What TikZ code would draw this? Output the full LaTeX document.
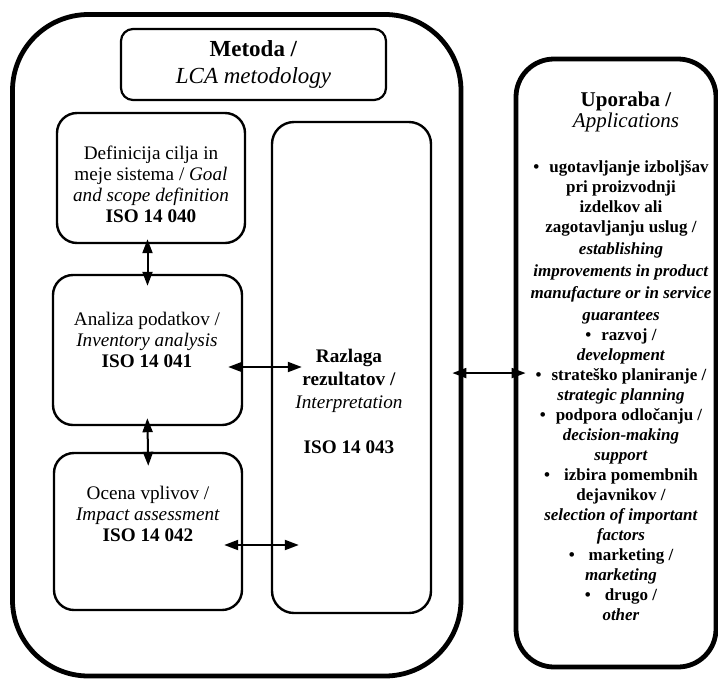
\documentclass[tikz,border=0pt]{standalone}
\usepackage{fontspec}
\setmainfont{Liberation Serif}
\usepackage{tikz}
\usetikzlibrary{positioning,arrows.meta}
\newfontfamily\appfont{Liberation Serif}
\tikzset{
  lcabox/.style  ={draw, line width=2.4pt, rounded corners=38pt, inner sep=0pt},
  appbox/.style  ={draw, line width=2.4pt, rounded corners=19pt, inner sep=0pt},
  stagebox/.style={draw, line width=1.2pt, rounded corners=10pt, inner sep=0pt},
  headbox/.style ={draw, line width=1.1pt, rounded corners=6pt, inner sep=0pt, align=center,
                   font=\fontsize{11.5}{13.5}\selectfont},
  stagetxt/.style={align=center, inner sep=0pt, font=\fontsize{9.6}{10.5}\selectfont},
  apptxt/.style  ={align=center, inner sep=0pt, font=\appfont\bfseries\fontsize{8.5}{10}\selectfont},
  link/.style    ={{Triangle[length=7pt,width=5pt]}-{Triangle[length=7pt,width=5pt]}, line width=1pt},
}

\begin{document}
\begin{tikzpicture}[x=0.5pt,y=-0.5pt]
  \useasboundingbox (0,0) rectangle (718,681);
  % outer frames
  \node[lcabox, minimum width=224.25pt, minimum height=330.75pt] (lca) at (236.75,345.25) {};
  \node[appbox, minimum width=100pt, minimum height=304pt] (upo) at (616,363) {};
  % method boxes
  \node[headbox, minimum width=132.5pt, minimum height=35.5pt] (met) at (253.5,64.5)
     {\textbf{Metoda /}\\ \textit{LCA metodology}};
  \node[stagebox, minimum width=94pt, minimum height=65pt] (def) at (151,178) {};
  \node[stagetxt] (defT) at (151,184) {Definicija cilja in\\ meje sistema / \textit{Goal}\\ \textit{and scope definition}\\ \textbf{ISO 14 040}};
  \node[stagebox, minimum width=94.5pt, minimum height=75pt] (ana) at (147.5,350) {};
  \node[stagetxt] (anaT) at (147,340) {Analiza podatkov /\\ \textit{Inventory analysis}\\ \textbf{ISO 14 041}};
  \node[stagebox, minimum width=94pt, minimum height=78.5pt] (oce) at (148,531.5) {};
  \node[stagetxt] (oceT) at (148,514) {Ocena vplivov /\\ \textit{Impact assessment}\\ \textbf{ISO 14 042}};
  \node[stagebox, rounded corners=11pt, minimum width=79.5pt, minimum height=245.5pt] (raz) at (351.5,367.5) {};
  \node[stagetxt] (razT) at (349,401) {\textbf{Razlaga}\\[1pt] \textbf{rezultatov /}\\[1pt] \textit{Interpretation}\\[12pt] \textbf{ISO 14 043}};
  % applications
  \node[stagetxt, font=\fontsize{10.5}{10.5}\selectfont] (upoT) at (626,112) {\textbf{Uporaba /}\\ \textit{Applications}};
  \node[apptxt, anchor=north] (upoL) at (621,160) {%
     •\hspace{5pt}ugotavljanje izboljšav\\
     pri proizvodnji\\
     izdelkov ali\\
     zagotavljanju uslug /\\[1pt]
     \textit{establishing}\\[1pt]
     \textit{improvements in product}\\[1pt]
     \textit{manufacture or in service}\hspace*{9pt}\\[1pt]
     \textit{guarantees}\hspace*{24pt}\\
     •\hspace{5pt}razvoj /\\
     \textit{development}\\
     •\hspace{5pt}strateško planiranje /\\
     \textit{strategic planning}\\
     •\hspace{5pt}podpora odločanju /\\
     \textit{decision-making}\\
     \textit{support}\hspace*{13pt}\\
     •\hspace{7pt}izbira pomembnih\\
     dejavnikov /\\
     \textit{selection of important}\\
     \textit{factors}\hspace*{24pt}\\
     •\hspace{7pt}marketing /\\
     \textit{marketing}\\
     •\hspace{7pt}drugo /\\
     \textit{other}};
  % connectors
  \draw[link, shorten <=-2.5pt, shorten >=-6pt] (ana.north |- def.south) -- (ana.north);
  \draw[link, shorten <=-4pt, shorten >=-7pt] (ana.south) -- (oce.north);
  \draw[link, shorten <=-7.5pt, shorten >=-15.5pt] ([yshift=-8.5pt]ana.east) -- ([yshift=-8.5pt]ana.east -| raz.west);
  \draw[link, shorten <=-9.5pt, shorten >=-14pt] ([yshift=-6.75pt]oce.east) -- ([yshift=-6.75pt]oce.east -| raz.west);
  \draw[link, shorten <=-5.5pt, shorten >=-6pt] ([yshift=-13.9pt]lca.east) -- ([yshift=-13.9pt]lca.east -| upo.west);
\end{tikzpicture}
\end{document}
